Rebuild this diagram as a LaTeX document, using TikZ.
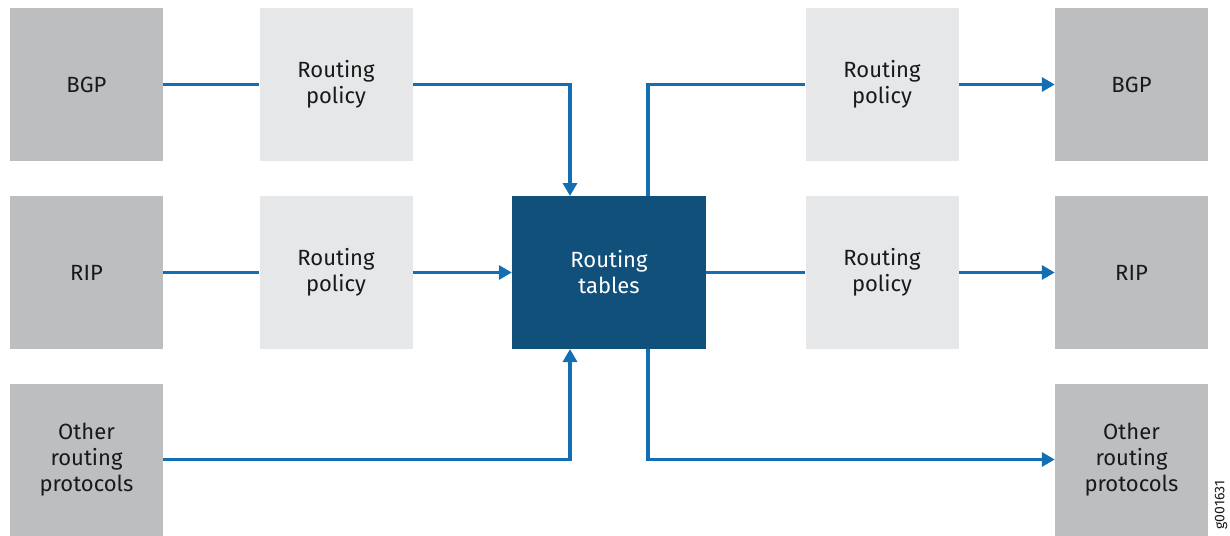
\documentclass[tikz,border=0pt]{standalone}
\usepackage{fontspec}
\setmainfont{Fira Sans}
\usetikzlibrary{arrows.meta}
\definecolor{protogray}{RGB}{189,190,192}
\definecolor{policygray}{RGB}{230,231,232}
\definecolor{tabblue}{RGB}{16,80,122}
\definecolor{linkblue}{RGB}{20,110,180}
\begin{document}
\begin{tikzpicture}[x=1pt,y=-1pt,
  box/.style={draw=none,minimum width=153pt,minimum height=153pt,inner sep=0pt,align=center,font=\fontsize{22}{26}\selectfont,text=black!90},
  proto/.style={box,fill=protogray},
  policy/.style={box,fill=policygray},
  table/.style={box,fill=tabblue,text=white,minimum width=194pt},
  link/.style={draw=linkblue,line width=3.2pt},
  arr/.style={link,-{Triangle[length=13pt,width=14pt]}}]
\useasboundingbox (0,0) rectangle (1230,535);
% left column
\node[proto] (lbgp) at (86.5,84.5) {BGP};
\node[proto] (lrip) at (86.5,272.5) {RIP};
\node[proto,minimum height=152pt] (loth) at (86.5,459.5) {Other\\routing\\protocols};
% left policies
\node[policy] (lp1) at (336,84.5) {Routing\\policy};
\node[policy] (lp2) at (336,272.5) {Routing\\policy};
% center
\node[table] (rt) at (609,272.5) {Routing\\tables};
% right policies
\node[policy] (rp1) at (882,84.5) {Routing\\policy};
\node[policy] (rp2) at (882,272.5) {Routing\\policy};
% right column
\node[proto] (rbgp) at (1131.5,84.5) {BGP};
\node[proto] (rrip) at (1131.5,272.5) {RIP};
\node[proto,minimum height=152pt] (roth) at (1131.5,459.5) {Other\\routing\\protocols};
% label
\node[rotate=90,font=\fontsize{14}{16}\selectfont,text=black!90] (gid) at (1221,505) {g001631};
% connectors
\coordinate (tin) at (570,196);
\coordinate (bin) at (570,349);
\coordinate (tout) at (648,196);
\coordinate (bout) at (648,349);
\draw[link] (lbgp.east) -- (lp1.west);
\draw[arr] (lp1.east) -| (tin);
\draw[link] (lrip.east) -- (lp2.west);
\draw[arr] (lp2.east) -- (rt.west);
\draw[arr] (loth.east) -| (bin);
\draw[link] (tout) |- (rp1.west);
\draw[arr] (rp1.east) -- (rbgp.west);
\draw[link] (rt.east) -- (rp2.west);
\draw[arr] (rp2.east) -- (rrip.west);
\draw[arr] (bout) |- (roth.west);
\end{tikzpicture}
\end{document}
